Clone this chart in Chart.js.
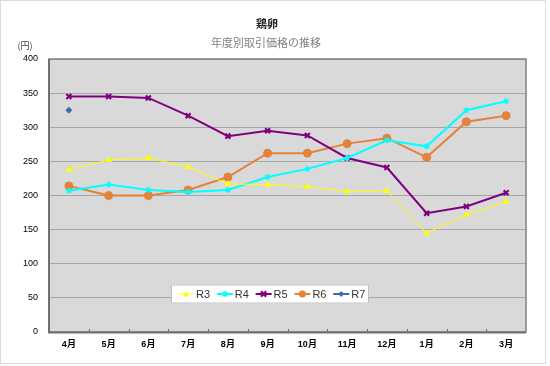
<!DOCTYPE html>
<html><head><meta charset="utf-8">
<script src="https://cdn.jsdelivr.net/npm/chart.js@4/dist/chart.umd.min.js"></script>
<style>html,body{margin:0;padding:0;background:#fff;}#wrap{width:550px;height:366px;}</style>
</head><body><div id="wrap"><canvas id="c" width="550" height="366"></canvas></div>
<script>
const months = ['4月','5月','6月','7月','8月','9月','10月','11月','12月','1月','2月','3月'];
const yTicks = [0,50,100,150,200,250,300,350,400];
const seriesNames = ['R3','R4','R5','R6','R7'];
const r3 = [238,252,255,242,217,216,213,206,207,145,172,191];
const r4 = [207,216,208,205,208,227,239,255,281,272,325,338];
const r5 = [345,345,343,317,287,295,288,255,241,174,184,204];
const r6 = [214,200,200,208,227,262,262,276,284,256,308,317];
const r7 = [325,null,null,null,null,null,null,null,null,null,null,null];
const titleText = '鶏卵';
const subtitleText = '年度別取引価格の推移';
const unitText = '(円)';

const FONT = "'Liberation Sans', Arial, 'Noto Sans CJK JP', sans-serif";
const styles = [
  {color:'#ffff00', point:'triangle', r:3, lw:1, pbw:1},
  {color:'#00ffff', point:'star', r:3, lw:2, pbw:1.2},
  {color:'#800080', point:'crossRot', r:3.5, lw:2, pbw:2.2},
  {color:'#e3823a', point:'circle', r:4, lw:2, pbw:1},
  {color:'#3a6db0', point:'rectRot', r:3, lw:2, pbw:1}
];
const allData = [r3,r4,r5,r6,r7];

function drawMarker(ctx, st, x, y, r){
  ctx.save();
  ctx.fillStyle = st.color; ctx.strokeStyle = st.color; ctx.lineWidth = st.pbw;
  ctx.beginPath();
  if(st.point==='triangle'){
    ctx.moveTo(x, y-r); ctx.lineTo(x+r, y+r*0.8); ctx.lineTo(x-r, y+r*0.8); ctx.closePath(); ctx.fill();
  } else if(st.point==='circle'){
    ctx.arc(x,y,r,0,Math.PI*2); ctx.fill();
  } else if(st.point==='rectRot'){
    ctx.moveTo(x,y-r); ctx.lineTo(x+r,y); ctx.lineTo(x,y+r); ctx.lineTo(x-r,y); ctx.closePath(); ctx.fill();
  } else if(st.point==='crossRot'){
    const d=r*0.75; ctx.moveTo(x-d,y-d); ctx.lineTo(x+d,y+d); ctx.moveTo(x+d,y-d); ctx.lineTo(x-d,y+d); ctx.stroke();
  } else if(st.point==='star'){
    const d=r*0.75; ctx.moveTo(x-d,y-d); ctx.lineTo(x+d,y+d); ctx.moveTo(x+d,y-d); ctx.lineTo(x-d,y+d);
    ctx.moveTo(x,y-r); ctx.lineTo(x,y+r); ctx.moveTo(x-r,y); ctx.lineTo(x+r,y); ctx.stroke();
  }
  ctx.restore();
}

const decor = {
  id:'decor',
  beforeDraw(chart){
    const ctx = chart.ctx, a = chart.chartArea;
    ctx.save();
    ctx.fillStyle='#fff'; ctx.fillRect(0,0,chart.width,chart.height);
    ctx.strokeStyle='#dcdcdc'; ctx.lineWidth=1; ctx.strokeRect(0.5,0.5,545,363);
    ctx.fillStyle='#d9d9d9'; ctx.fillRect(a.left,a.top,a.right-a.left,a.bottom-a.top);
    ctx.restore();
  },
  beforeDatasetsDraw(chart){
    const ctx = chart.ctx, a = chart.chartArea, xs = chart.scales.x;
    ctx.save();
    ctx.strokeStyle='#808080'; ctx.lineWidth=1.5;
    ctx.strokeRect(a.left,a.top,a.right-a.left,a.bottom-a.top);
    ctx.strokeStyle='#707070'; ctx.lineWidth=2;
    ctx.beginPath(); ctx.moveTo(a.left,a.top); ctx.lineTo(a.left,a.bottom+0.5); ctx.lineTo(a.right,a.bottom+0.5); ctx.stroke();
    const step = xs.getPixelForValue(1)-xs.getPixelForValue(0);
    ctx.lineWidth=1; ctx.strokeStyle='#707070';
    for(let i=1;i<months.length;i++){
      const px = Math.round(xs.getPixelForValue(i)-step/2)+0.5;
      ctx.beginPath(); ctx.moveTo(px,a.bottom-3); ctx.lineTo(px,a.bottom); ctx.stroke();
    }
    ctx.restore();
  },
  afterDatasetsDraw(chart){
    const ctx = chart.ctx;
    ctx.save();
    const bx=171, by=284.5, bw=198, bh=19;
    ctx.fillStyle='#fff'; ctx.fillRect(bx,by,bw,bh);
    ctx.strokeStyle='#c0c0c0'; ctx.lineWidth=1; ctx.strokeRect(bx+0.5,by+0.5,bw-1,bh-1);
    const cy = by+bh/2;
    ctx.font = "11px "+FONT; ctx.textBaseline='middle'; ctx.textAlign='left';
    for(let i=0;i<seriesNames.length;i++){
      const x0 = 178 + i*38.8;
      const st = styles[i];
      ctx.strokeStyle=st.color; ctx.lineWidth=st.lw;
      ctx.beginPath(); ctx.moveTo(x0,cy); ctx.lineTo(x0+16,cy); ctx.stroke();
      drawMarker(ctx, st, x0+8, cy, Math.min(st.r,3.5));
      ctx.fillStyle='#333';
      ctx.fillText(seriesNames[i], x0+18, cy+0.5);
    }
    ctx.restore();
  },
  afterDraw(chart){
    const ctx = chart.ctx;
    ctx.save();
    ctx.textAlign='center'; ctx.textBaseline='middle';
    ctx.fillStyle='#222'; ctx.font="bold 11px 'Noto Sans CJK JP', sans-serif";
    ctx.fillText(titleText, 267, 24);
    ctx.fillStyle='#808080'; ctx.font="11px 'Noto Sans CJK JP', sans-serif";
    ctx.fillText(subtitleText, 266, 43);
    ctx.fillStyle='#444'; ctx.font="9px 'Noto Sans CJK JP', sans-serif";
    ctx.fillText(unitText, 25, 46);
    ctx.restore();
  }
};

const datasets = allData.map((d,i)=>({
  label: seriesNames[i],
  data: d,
  borderColor: styles[i].color,
  backgroundColor: styles[i].color,
  borderWidth: styles[i].lw,
  pointStyle: styles[i].point,
  pointRadius: styles[i].r,
  pointBorderWidth: styles[i].pbw,
  pointBorderColor: styles[i].color,
  pointBackgroundColor: styles[i].color,
  tension: 0,
  spanGaps: false
}));

new Chart(document.getElementById('c'), {
  type:'line',
  data:{labels: months, datasets},
  plugins:[decor],
  options:{
    responsive:false, animation:false, devicePixelRatio:1,
    layout:{padding:{top:59,right:24,left:0,bottom:0}},
    plugins:{legend:{display:false}, tooltip:{enabled:false}, title:{display:false}},
    scales:{
      x:{offset:true, grid:{display:false, drawTicks:false}, border:{display:false},
         ticks:{padding:7, color:'#000', font:{size:9, weight:'bold', family:FONT}, maxRotation:0, autoSkip:false},
         afterFit(s){ s.height = 34; }},
      y:{min:0, max:400, afterBuildTicks(s){ s.ticks = yTicks.map(v=>({value:v})); },
         grid:{color:'#a6a6a6', lineWidth:1, drawTicks:false}, border:{display:false},
         ticks:{padding:11, color:'#000', font:{size:9, family:FONT}},
         afterFit(s){ s.width = 49; }}
    }
  }
});
</script>
</body></html>
